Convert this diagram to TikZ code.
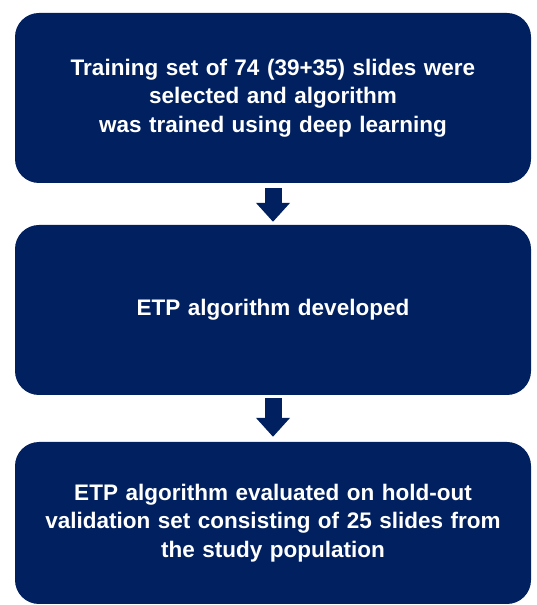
\documentclass[tikz,border=0pt]{standalone}
\usepackage{fontspec}
\setmainfont{Liberation Sans}
\usepackage{xcolor}
\usetikzlibrary{arrows.meta}

\definecolor{navy}{RGB}{0,32,96}

\begin{document}
\begin{tikzpicture}[x=1pt,y=1pt,
    stage/.style={fill=navy, text=white, rounded corners=24pt, minimum width=516pt,
      inner sep=0pt, text width=500pt, align=center,
      font=\fontsize{22.5}{28.5}\selectfont\bfseries},
    flow/.style={draw=navy, line width=17pt, -{Triangle[width=33pt,length=19pt]}}]

    \useasboundingbox (0,0) rectangle (537,605);

    \node[stage, minimum height=170pt] (train) at (273, 507) {Training set of 74 (39+35) slides were\\ selected and algorithm\\ was trained using deep learning};
    \node[stage, minimum height=170pt] (devel) at (273, 295) {ETP algorithm developed};
    \node[stage, minimum height=162pt] (valid) at (273, 82) {ETP algorithm evaluated on hold-out\\ validation set consisting of 25 slides from\\ the study population};

    \draw[flow, shorten <=5pt, shorten >=3pt] (train.south) -- (devel.north);
    \draw[flow, shorten <=3pt, shorten >=5pt] (devel.south) -- (valid.north);

  \end{tikzpicture}
\end{document}
